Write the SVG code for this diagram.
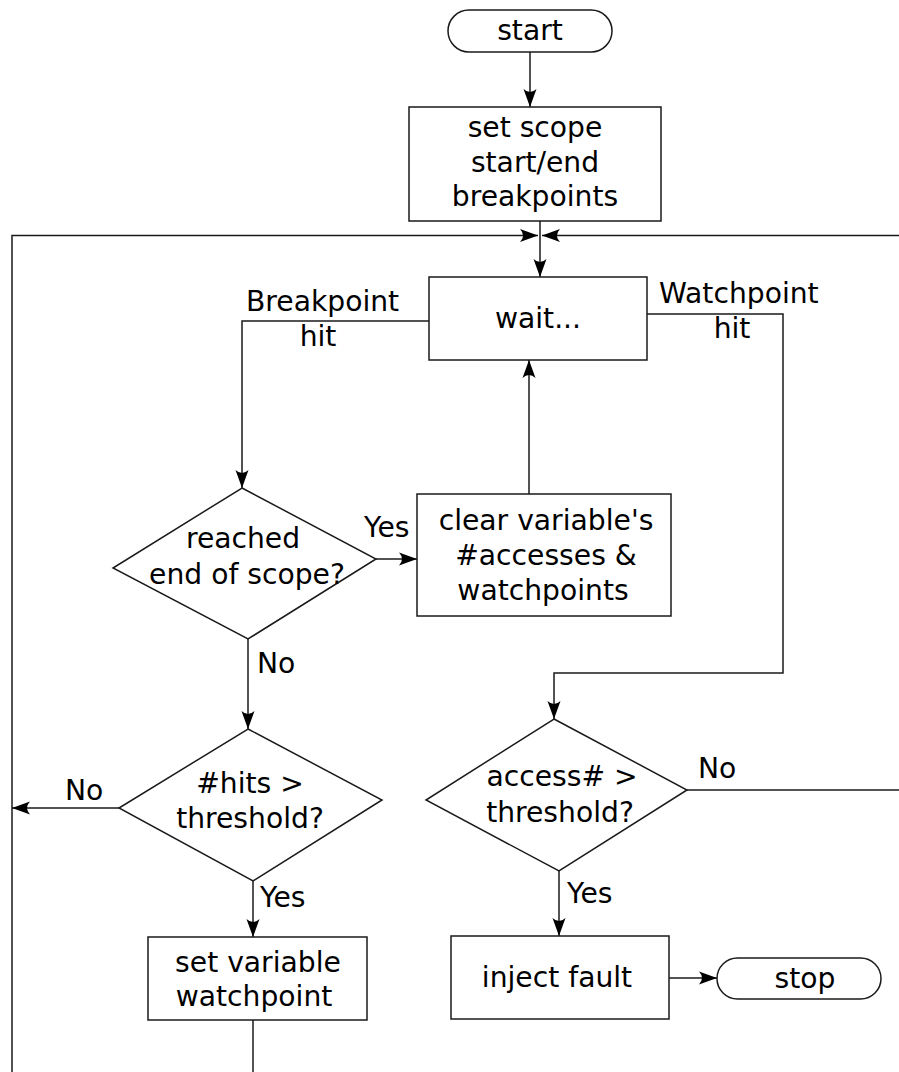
<svg xmlns="http://www.w3.org/2000/svg" width="899" height="1072" viewBox="0 0 899 1072">
  <style>
    .shape { fill: #ffffff; stroke: #1a1a1a; stroke-width: 1.5; }
    .wire { fill: none; stroke: #1a1a1a; stroke-width: 1.5; }
    .arrow { marker-end: url(#head); }
    text { font-family: "DejaVu Sans", "Liberation Sans", sans-serif; font-size: 28.2px; fill: #000000; }
    .c { text-anchor: middle; }
  </style>
  <defs>
    <marker id="head" markerUnits="userSpaceOnUse" markerWidth="22" markerHeight="16" viewBox="-19 -8 20 16" refX="0" refY="0" orient="auto" overflow="visible">
      <path d="M0,0 L-18,-6.5 Q-12,0 -18,6.5 Z" fill="#000000"/>
    </marker>
  </defs>
  <rect width="899" height="1072" fill="#ffffff"/>

  <g id="connectors">
    <path class="wire arrow" d="M530,52 V107"/>
    <path class="wire arrow" d="M540,221 V277"/>
    <path class="wire arrow" d="M12,1072 V235.5 H538"/>
    <path class="wire arrow" d="M899,235.5 H542"/>
    <path class="wire arrow" d="M429,321 H242 V488"/>
    <path class="wire arrow" d="M647,314 H783 V673 H554 V719"/>
    <path class="wire arrow" d="M376,559 H417"/>
    <path class="wire arrow" d="M529,494 V360"/>
    <path class="wire arrow" d="M248,639 V729"/>
    <path class="wire arrow" d="M119,808 H12"/>
    <path class="wire arrow" d="M253,881 V937"/>
    <path class="wire" d="M253,1020 V1072"/>
    <path class="wire" d="M687,790 H899"/>
    <path class="wire arrow" d="M559,871 V936"/>
    <path class="wire arrow" d="M669,978 H717"/>
    <text x="246" y="311">Breakpoint</text>
    <text class="c" x="318" y="346">hit</text>
    <text x="659" y="303">Watchpoint</text>
    <text class="c" x="732" y="338">hit</text>
    <text x="364" y="537">Yes</text>
    <text x="257" y="673">No</text>
    <text x="65" y="800">No</text>
    <text x="260" y="907">Yes</text>
    <text x="698" y="778">No</text>
    <text x="567" y="903">Yes</text>
  </g>

  <g id="start">
    <rect class="shape" x="448" y="10" width="164" height="42" rx="21"/>
    <text class="c" x="530" y="40">start</text>
  </g>

  <g id="set-scope">
    <rect class="shape" x="409" y="107" width="252" height="114"/>
    <text class="c" x="535" y="137">set scope</text>
    <text class="c" x="535" y="172">start/end</text>
    <text class="c" x="535" y="206">breakpoints</text>
  </g>

  <g id="wait">
    <rect class="shape" x="429" y="277" width="218" height="83"/>
    <text class="c" x="538" y="328">wait...</text>
  </g>

  <g id="end-of-scope">
    <polygon class="shape" points="242,488 376,559 248,639 113,568"/>
    <text class="c" x="243" y="548">reached</text>
    <text class="c" x="247" y="584">end of scope?</text>
  </g>

  <g id="clear-variable">
    <rect class="shape" x="417" y="494" width="254" height="122"/>
    <text class="c" x="546" y="530">clear variable's</text>
    <text class="c" x="546" y="565">#accesses &amp;</text>
    <text class="c" x="543" y="600">watchpoints</text>
  </g>

  <g id="hits-threshold">
    <polygon class="shape" points="248,729 382,800 253,881 119,808"/>
    <text class="c" x="250" y="793">#hits &gt;</text>
    <text class="c" x="250" y="828">threshold?</text>
  </g>

  <g id="set-watchpoint">
    <rect class="shape" x="148" y="937" width="219" height="83"/>
    <text class="c" x="258" y="972">set variable</text>
    <text class="c" x="254" y="1006">watchpoint</text>
  </g>

  <g id="access-threshold">
    <polygon class="shape" points="554,719 687,790 559,871 426,800"/>
    <text class="c" x="562" y="786">access# &gt;</text>
    <text class="c" x="560" y="822">threshold?</text>
  </g>

  <g id="inject-fault">
    <rect class="shape" x="451" y="936" width="218" height="83"/>
    <text class="c" x="557" y="987">inject fault</text>
  </g>

  <g id="stop">
    <rect class="shape" x="717" y="958" width="164" height="41" rx="20.5"/>
    <text class="c" x="805" y="988">stop</text>
  </g>
</svg>
